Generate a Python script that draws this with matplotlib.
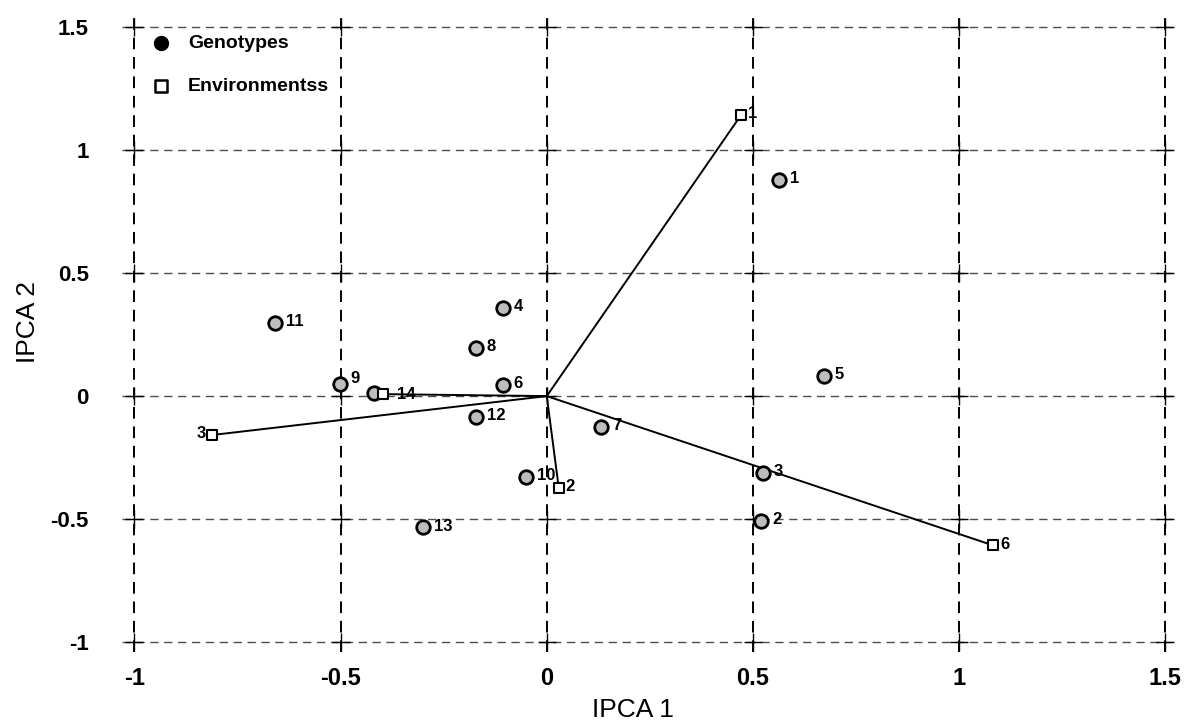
import numpy as np
import matplotlib
matplotlib.use("Agg")
import matplotlib.pyplot as plt

plt.rcParams["axes.unicode_minus"] = False

# genotype scores on the first two interaction PCs
geno_labels = ["1", "2", "3", "4", "5", "6", "7", "8", "9", "10", "11", "12", "13", "14"]
geno_ipca1 = [0.563, 0.519, 0.524, -0.107, 0.672, -0.107, 0.131, -0.172, -0.502, -0.051, -0.660, -0.172, -0.301, -0.420]
geno_ipca2 = [0.879, -0.506, -0.312, 0.360, 0.081, 0.045, -0.126, 0.194, 0.049, -0.328, 0.296, -0.085, -0.534, 0.012]

# environment scores (drawn as vectors from the origin)
env_labels = ["1", "2", "3", "4", "6"]
env_ipca1 = [0.471, 0.029, -0.811, -0.396, 1.083]
env_ipca2 = [1.142, -0.372, -0.158, 0.008, -0.607]

ticks = [-1, -0.5, 0, 0.5, 1, 1.5]

SANS = ["Liberation Sans", "DejaVu Sans"]


def main():
    fig = plt.figure(figsize=(12.01, 7.28), dpi=100)
    ax = fig.add_axes([0.1016, 0.1044, 0.879, 0.872])
    ax.set_xlim(-1.03, 1.53)
    ax.set_ylim(-1.04, 1.54)

    # dashed reference grid with small crosses where the lines meet
    for t in ticks:
        ax.axvline(t, color="black", lw=1.4, ls=(0, (6, 4)), zorder=1)
        ax.axhline(t, color="0.3", lw=1.0, ls=(0, (6, 4)), zorder=1)
    gx, gy = np.meshgrid(ticks, ticks)
    ax.scatter(gx.ravel(), gy.ravel(), marker="+", s=160, color="black",
               linewidths=1.0, zorder=2)

    # environment vectors
    for x, y in zip(env_ipca1, env_ipca2):
        ax.plot([0, x], [0, y], color="black", lw=1.4, zorder=3)

    ax.scatter(geno_ipca1, geno_ipca2, s=95, marker="o", facecolor="#bdbdbd",
               edgecolor="black", linewidths=2.0, zorder=4)
    ax.scatter(env_ipca1, env_ipca2, s=55, marker="s", facecolor="white",
               edgecolor="black", linewidths=1.5, zorder=5)

    for lab, x, y in zip(geno_labels, geno_ipca1, geno_ipca2):
        off = (8, 1)
        if lab == "9":
            off = (8, 4)
        if lab == "14":
            off = (17, -1)
        ax.annotate(lab, (x, y), xytext=off, textcoords="offset points",
                    ha="left", va="center", fontsize=12, fontweight="bold",
                    family=SANS, zorder=6)

    for lab, x, y in zip(env_labels, env_ipca1, env_ipca2):
        if lab == "4":
            continue
        if x < -0.5:
            ax.annotate(lab, (x, y), xytext=(-5, 1), textcoords="offset points",
                        ha="right", va="center", fontsize=12, fontweight="bold",
                        family=SANS, zorder=6)
        else:
            ax.annotate(lab, (x, y), xytext=(5, 1), textcoords="offset points",
                        ha="left", va="center", fontsize=12, fontweight="bold",
                        family=SANS, zorder=6)

    # legend drawn by hand in the upper-left cell
    ax.scatter([-0.935], [1.435], s=100, marker="o", facecolor="black",
               edgecolor="black", zorder=6)
    ax.scatter([-0.935], [1.26], s=80, marker="s", facecolor="white",
               edgecolor="black", linewidths=1.8, zorder=6)
    ax.text(-0.87, 1.435, "Genotypes", ha="left", va="center", fontsize=14,
            fontweight="bold", family=SANS)
    ax.text(-0.87, 1.26, "Environmentss", ha="left", va="center", fontsize=14,
            fontweight="bold", family=SANS)

    ax.set_xticks(ticks)
    ax.set_yticks(ticks)
    ax.set_xticklabels(["%g" % t for t in ticks], fontsize=17, fontweight="bold",
                       family=SANS)
    ax.set_yticklabels(["%g" % t for t in ticks], fontsize=16, fontweight="bold",
                       family=SANS)
    ax.tick_params(axis="x", length=0, pad=11)
    ax.tick_params(axis="y", length=0, pad=24)
    for s in ax.spines.values():
        s.set_visible(False)

    ax.set_xlabel("IPCA 1", fontsize=19, family=SANS)
    ax.xaxis.set_label_coords(0.484, -0.072)
    ax.set_ylabel("IPCA 2", fontsize=19, family=SANS)
    ax.yaxis.set_label_coords(-0.078, 0.52)

    fig.savefig("out.png", dpi=100)


if __name__ == "__main__":
    main()
